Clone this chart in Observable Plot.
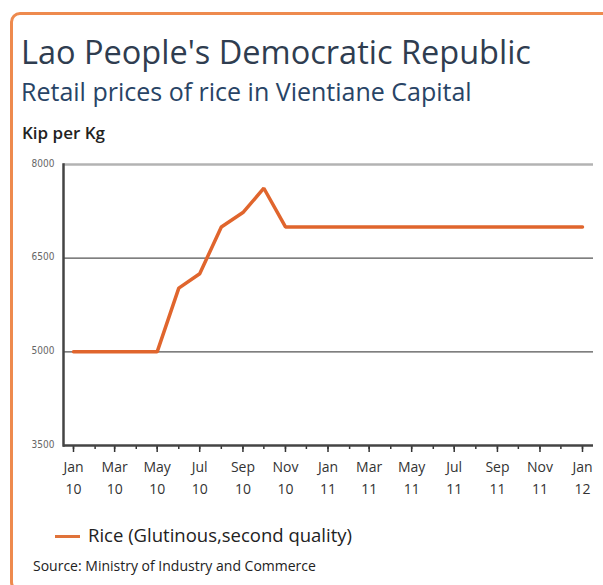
<!DOCTYPE html>
<html>
<head>
<meta charset="utf-8">
<script src="https://cdn.jsdelivr.net/npm/d3@7"></script>
<script src="https://cdn.jsdelivr.net/npm/@observablehq/plot@0.6"></script>
<style>
  html, body { margin: 0; padding: 0; background: #fff; }
  #wrap { position: relative; width: 603px; height: 585px; overflow: hidden; background: #fff; font-family: "Open Sans", sans-serif; }
  #frame { position: absolute; left: 10px; top: 12px; width: 640px; height: 580px; border: 3px solid #ee8a4e; border-radius: 10px; box-sizing: border-box; }
  #title { position: absolute; left: 21px; top: 36px; font-size: 32.5px; color: #2f3d50; white-space: nowrap; line-height: 1; }
  #subtitle { position: absolute; left: 21px; top: 79px; font-size: 25px; color: #284466; white-space: nowrap; line-height: 1; }
  #unit { position: absolute; left: 22px; top: 124px; font-size: 17px; font-weight: 600; color: #222; white-space: nowrap; line-height: 1; }
  #chart { position: absolute; left: 0; top: 140px; }
  #legend { position: absolute; left: 55px; top: 523px; font-size: 18.5px; color: #222; white-space: nowrap; line-height: 24px; }
  #legend .sw { display: inline-block; width: 25px; height: 3px; background: #e0733a; vertical-align: middle; margin-right: 8px; position: relative; top: -1px; }
  #source { position: absolute; left: 33px; top: 559px; font-size: 14px; color: #222; white-space: nowrap; line-height: 1; }
</style>
</head>
<body>
<div id="wrap">
  <div id="frame"></div>
  <div id="title">Lao People's Democratic Republic</div>
  <div id="subtitle">Retail prices of rice in Vientiane Capital</div>
  <div id="unit">Kip per Kg</div>
  <div id="chart"></div>
  <div id="legend"><span class="sw"></span>Rice (Glutinous,second quality)</div>
  <div id="source">Source: Ministry of Industry and Commerce</div>
</div>
<script>
const months = ["2010-01","2010-02","2010-03","2010-04","2010-05","2010-06","2010-07","2010-08","2010-09","2010-10","2010-11","2010-12",
                "2011-01","2011-02","2011-03","2011-04","2011-05","2011-06","2011-07","2011-08","2011-09","2011-10","2011-11","2011-12","2012-01"];
const prices = [5000,5000,5000,5000,5000,6020,6250,7000,7230,7620,7000,7000,
                7000,7000,7000,7000,7000,7000,7000,7000,7000,7000,7000,7000,7000];
const tickMonths = ["2010-01","2010-03","2010-05","2010-07","2010-09","2010-11","2011-01","2011-03","2011-05","2011-07","2011-09","2011-11","2012-01"];
const tickLabels = ["Jan\n10","Mar\n10","May\n10","Jul\n10","Sep\n10","Nov\n10","Jan\n11","Mar\n11","May\n11","Jul\n11","Sep\n11","Nov\n11","Jan\n12"];
const yTicks = [3500, 5000, 6500, 8000];

const toDate = m => new Date(m + "-01T00:00:00Z");
const data = months.map((m, i) => ({date: toDate(m), price: prices[i]}));
const allTicks = months.map(toDate);
const majorTicks = tickMonths.map(toDate);
const labelFor = d => { const i = majorTicks.findIndex(t => +t === +d); return i >= 0 ? tickLabels[i] : ""; };

const chart = Plot.plot({
  width: 603,
  height: 370,
  marginLeft: 63,
  marginRight: 10,
  marginTop: 24,
  marginBottom: 65,
  style: {background: "transparent", fontFamily: "Open Sans, sans-serif", overflow: "visible"},
  x: {type: "utc", domain: [allTicks[0], allTicks[allTicks.length - 1]], insetLeft: 10, insetRight: 11},
  y: {domain: [3500, 8000]},
  marks: [
    Plot.ruleY([8000], {stroke: "#b3b3b3", strokeWidth: 2.5}),
    Plot.ruleY([5000, 6500], {stroke: "#555", strokeWidth: 1.3}),
    Plot.axisX({ticks: allTicks, tickSize: 4, tickFormat: () => "", label: null, stroke: "#333", strokeWidth: 1.5}),
    Plot.axisX({ticks: majorTicks, tickSize: 7, tickPadding: 4, tickFormat: labelFor, label: null,
                fontSize: 14, lineHeight: 1.55, fill: "#333", stroke: "#333", strokeWidth: 1.5}),
    Plot.axisY({ticks: yTicks, tickSize: 0, tickPadding: 9, label: null, fontSize: 10, tickFormat: d => String(d),
                fontFamily: "DejaVu Sans Condensed, DejaVu Sans, sans-serif", fill: "#666", dy: -1}),
    Plot.ruleY([3500], {stroke: "#444", strokeWidth: 2.5}),
    Plot.frame({anchor: "left", stroke: "#444", strokeWidth: 2.5}),
    Plot.line(data, {x: "date", y: "price", stroke: "#e0652d", strokeWidth: 3.5, strokeLinejoin: "miter"})
  ]
});
document.getElementById("chart").appendChild(chart);
</script>
</body>
</html>
